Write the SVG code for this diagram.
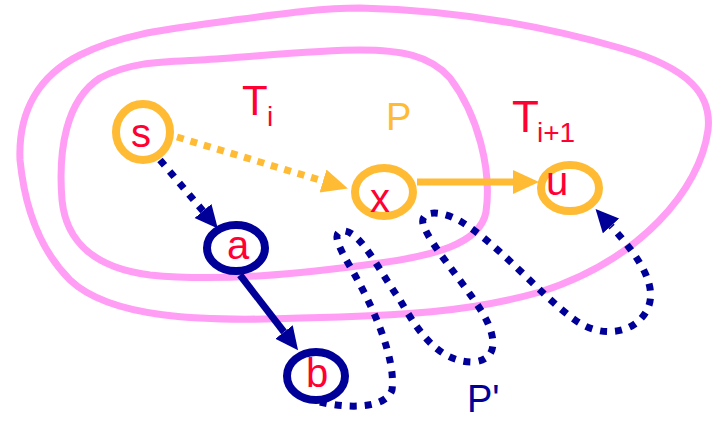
<svg xmlns="http://www.w3.org/2000/svg" width="719" height="421" viewBox="0 0 719 421">
<style>
.region{fill:none;stroke:#FF9EF4;stroke-width:7}
.onode{fill:none;stroke:#FFBB33;stroke-width:8}
.nnode{fill:none;stroke:#000099;stroke-width:8}
.lbl{font-family:"Liberation Sans",Arial,sans-serif;font-size:40px;fill:#FF0033;text-anchor:middle}
.title{font-family:"Liberation Sans",Arial,sans-serif}
.odot{fill:none;stroke:#FFBB33;stroke-width:7;stroke-dasharray:7 7}
.ndot{fill:none;stroke:#000099;stroke-width:7;stroke-dasharray:7 8}
.osol{fill:none;stroke:#FFBB33;stroke-width:7}
.nsol{fill:none;stroke:#000099;stroke-width:7}
</style>
<defs>
<marker id="ao" markerUnits="userSpaceOnUse" markerWidth="27" markerHeight="26" refX="0" refY="12" orient="auto"><path d="M0,0 L26,12 L0,24 Z" fill="#FFBB33"/></marker>
<marker id="an" markerUnits="userSpaceOnUse" markerWidth="26" markerHeight="24" refX="0" refY="11" orient="auto"><path d="M0,0 L23,11 L0,22 Z" fill="#000099"/></marker>
</defs>
<g id="regions">
<path id="T_i_plus_1" class="region" d="M 360 8 C 450 10, 540 25, 620 48 C 690 68, 712 95, 708 130 C 700 190, 640 260, 540 292 C 470 312, 400 316, 300 318 C 200 322, 110 318, 70 280 C 40 250, 25 210, 20 160 C 18 110, 40 75, 80 55 C 120 35, 160 30, 220 22 C 280 14, 320 8, 360 8 Z"/>
<path id="T_i" class="region" d="M 360 50 C 400 50, 430 55, 450 78 C 478 115, 492 170, 486 212 C 480 245, 430 256, 380 263 C 300 274, 220 282, 150 275 C 95 268, 66 242, 62 200 C 58 150, 66 100, 100 78 C 130 62, 160 62, 200 60 C 260 56, 320 50, 360 50 Z"/>
</g>
<g id="labels">
<text class="title" x="242" y="115" font-size="42" fill="#FF0033">T</text>
<text class="title" x="267" y="126" font-size="28" fill="#FF0033">i</text>
<text class="title" x="386" y="130" font-size="38" fill="#FFBB33">P</text>
<text class="title" x="512" y="132" font-size="44" fill="#FF0033">T</text>
<text class="title" x="537" y="142" font-size="28" fill="#FF0033">i+1</text>
<text class="title" x="467" y="412" font-size="38" fill="#000099">P'</text>
</g>
<g id="connectors">
<path id="s-x" class="odot" d="M 177 137 L 323 181" marker-end="url(#ao)"/>
<path id="s-a" class="ndot" d="M 160 160 L 203 211" marker-end="url(#an)"/>
<path id="a-b" class="nsol" d="M 240 275 L 284 332" marker-end="url(#an)"/>
<path id="x-u" class="osol" d="M 417 182 L 513 182" marker-end="url(#ao)"/>
<path id="P_prime" class="ndot" d="M 320 402 C 345 408, 385 410, 392 390 C 396 360, 375 310, 352 270 C 338 246, 330 230, 345 231 C 362 234, 380 272, 400 300 C 420 335, 440 362, 473 362 C 500 360, 496 335, 482 312 C 462 280, 430 245, 423 224 C 420 210, 440 210, 460 221 C 500 245, 540 295, 575 320 C 600 338, 632 335, 646 312 C 660 288, 640 258, 611 226" marker-end="url(#an)"/>
</g>
<g id="node-s"><ellipse class="onode" cx="143" cy="132" rx="27" ry="28"/><text class="lbl" x="141" y="147">s</text></g>
<g id="node-x"><ellipse class="onode" cx="384" cy="192" rx="29" ry="24"/><text class="lbl" x="380" y="212">x</text></g>
<g id="node-u"><ellipse class="onode" cx="570" cy="188" rx="29" ry="23"/><text class="lbl" x="557" y="195">u</text></g>
<g id="node-a"><ellipse class="nnode" cx="236" cy="248" rx="29" ry="23"/><text class="lbl" x="238" y="259">a</text></g>
<g id="node-b"><ellipse class="nnode" cx="316" cy="376" rx="29" ry="24"/><text class="lbl" x="317" y="387">b</text></g>
</svg>
